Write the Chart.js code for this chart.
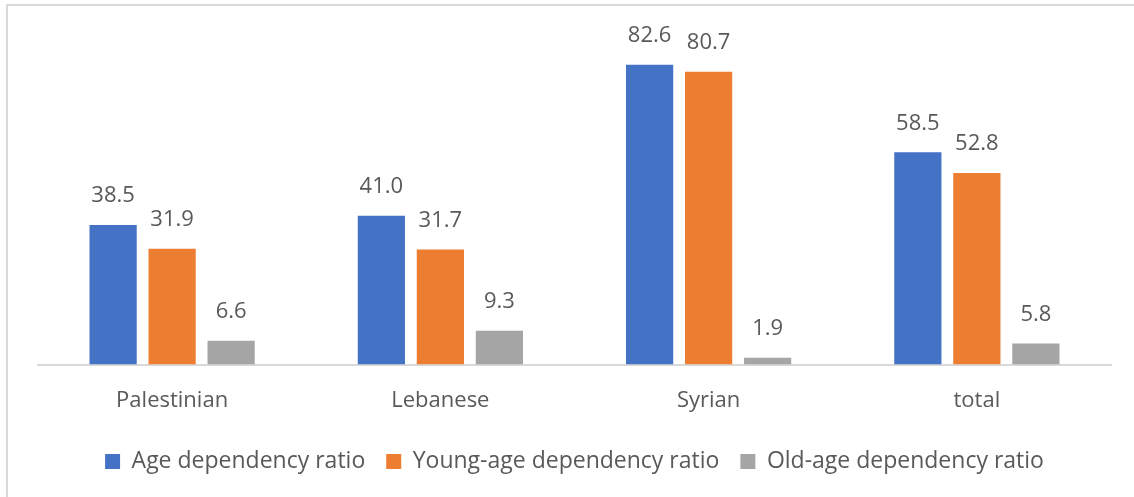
<!DOCTYPE html>
<html lang="en">
<head>
    <meta charset="UTF-8">
    <title>Dependency ratios</title>
    <script src="https://cdn.jsdelivr.net/npm/chart.js"></script>
    <style>
        html, body { margin: 0; padding: 0; background: #fff; }
        #wrap { position: relative; width: 1134px; height: 497px; }
        #frame { position: absolute; left: 6px; top: 4px; right: 0; bottom: 0;
                 border-left: 2px solid #d9d9d9; border-top: 2px solid #d9d9d9; }
        canvas { position: absolute; left: 0; top: 0; }
    </style>
</head>
<body>
    <div id="wrap">
        <div id="frame"></div>
        <canvas id="chart" width="1134" height="497"></canvas>
    </div>

    <script>
        const categories = ["Palestinian", "Lebanese", "Syrian", "total"];
        const ageRatio = [38.5, 41.0, 82.6, 58.5];
        const youngRatio = [31.9, 31.7, 80.7, 52.8];
        const oldRatio = [6.6, 9.3, 1.9, 5.8];

        const FONT = "'Open Sans', 'Noto Sans', sans-serif";
        const TEXT = "#595959";

        // value labels above bars
        const valueLabels = {
            id: "valueLabels",
            afterDatasetsDraw(chart) {
                const ctx = chart.ctx;
                ctx.save();
                ctx.fillStyle = TEXT;
                ctx.font = "22px " + FONT;
                ctx.textAlign = "center";
                ctx.textBaseline = "middle";
                chart.data.datasets.forEach((ds, i) => {
                    chart.getDatasetMeta(i).data.forEach((bar, j) => {
                        ctx.fillText(ds.data[j].toFixed(1), bar.x, bar.y - 29);
                    });
                });
                ctx.restore();
            }
        };

        new Chart(document.getElementById("chart"), {
            type: "bar",
            data: {
                labels: categories,
                datasets: [
                    { label: "Age dependency ratio", data: ageRatio, backgroundColor: "#4472c4" },
                    { label: "Young-age dependency ratio", data: youngRatio, backgroundColor: "#ed7d31" },
                    { label: "Old-age dependency ratio", data: oldRatio, backgroundColor: "#a5a5a5" }
                ]
            },
            options: {
                responsive: false,
                animation: false,
                categoryPercentage: 0.66,
                barPercentage: 0.8,
                layout: { padding: { left: 38, right: 23, top: 38, bottom: 14 } },
                plugins: {
                    tooltip: { enabled: false },
                    legend: {
                        position: "bottom",
                        labels: {
                            color: TEXT,
                            font: { family: FONT, size: 23 },
                            boxWidth: 15,
                            boxHeight: 15,
                            padding: 21
                        }
                    }
                },
                scales: {
                    x: {
                        grid: { display: false },
                        border: { color: "#d9d9d9", width: 2 },
                        ticks: { color: TEXT, font: { family: FONT, size: 22 }, padding: 15 }
                    },
                    y: {
                        display: false,
                        min: 0,
                        max: 90
                    }
                }
            },
            plugins: [valueLabels]
        });
    </script>
</body>
</html>
